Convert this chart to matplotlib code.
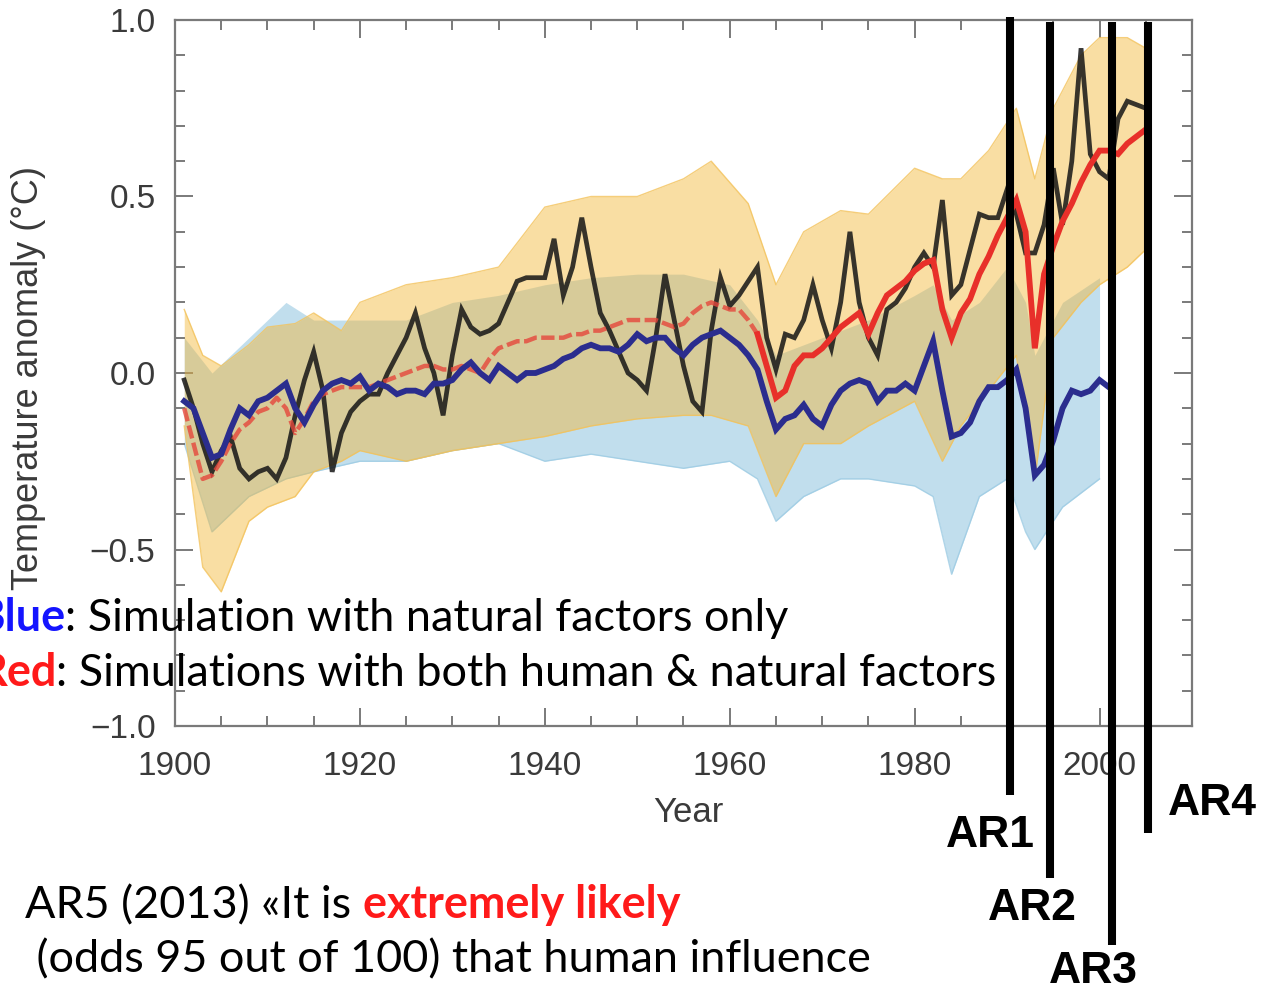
import matplotlib
matplotlib.use("Agg")
import matplotlib.pyplot as plt
import matplotlib.transforms as mtransforms
from matplotlib.lines import Line2D
from matplotlib.ticker import MultipleLocator

# ---------------- data ----------------
obs_years = list(range(1901, 2006))
obs_vals = [-0.02, -0.10, -0.20, -0.28, -0.22, -0.18, -0.27, -0.30, -0.28, -0.27,
            -0.30, -0.24, -0.12, -0.02, 0.06, -0.05, -0.28, -0.17, -0.11, -0.08,
            -0.06, -0.06, 0.00, 0.05, 0.10, 0.17, 0.07, 0.00, -0.12, 0.05,
            0.18, 0.13, 0.11, 0.12, 0.14, 0.20, 0.26, 0.27, 0.27, 0.27,
            0.38, 0.22, 0.30, 0.44, 0.30, 0.17, 0.12, 0.06, 0.00, -0.02,
            -0.05, 0.10, 0.28, 0.15, 0.02, -0.08, -0.11, 0.12, 0.27, 0.19,
            0.22, 0.26, 0.30, 0.10, 0.01, 0.11, 0.10, 0.15, 0.25, 0.15,
            0.07, 0.20, 0.40, 0.20, 0.10, 0.05, 0.18, 0.20, 0.24, 0.30,
            0.34, 0.30, 0.49, 0.22, 0.25, 0.35, 0.45, 0.44, 0.44, 0.52,
            0.45, 0.34, 0.34, 0.42, 0.58, 0.42, 0.60, 0.92, 0.62, 0.57,
            0.55, 0.72, 0.77, 0.76, 0.75]

red_years = list(range(1901, 2006))
red_vals = [-0.10, -0.20, -0.30, -0.29, -0.25, -0.20, -0.16, -0.14, -0.11, -0.10,
            -0.07, -0.10, -0.17, -0.13, -0.08, -0.06, -0.05, -0.04, -0.04, -0.04,
            -0.04, -0.03, -0.02, -0.01, 0.00, 0.01, 0.02, 0.02, 0.01, 0.01,
            0.02, 0.01, 0.00, 0.04, 0.07, 0.08, 0.09, 0.09, 0.10, 0.10,
            0.10, 0.10, 0.11, 0.11, 0.12, 0.12, 0.13, 0.14, 0.15, 0.15,
            0.15, 0.15, 0.14, 0.13, 0.14, 0.17, 0.19, 0.20, 0.19, 0.18,
            0.18, 0.15, 0.11, 0.02, -0.07, -0.05, 0.02, 0.05, 0.05, 0.07,
            0.10, 0.13, 0.15, 0.17, 0.11, 0.17, 0.22, 0.24, 0.26, 0.29,
            0.31, 0.32, 0.18, 0.10, 0.17, 0.21, 0.28, 0.33, 0.39, 0.44,
            0.49, 0.40, 0.07, 0.28, 0.36, 0.43, 0.48, 0.54, 0.59, 0.63,
            0.63, 0.62, 0.65, 0.67, 0.69]

blue_years = list(range(1901, 2002))
blue_vals = [-0.08, -0.10, -0.17, -0.24, -0.23, -0.16, -0.10, -0.12, -0.08, -0.07,
             -0.05, -0.03, -0.10, -0.14, -0.09, -0.05, -0.03, -0.02, -0.03, -0.01,
             -0.05, -0.03, -0.04, -0.06, -0.05, -0.05, -0.06, -0.03, -0.03, -0.02,
             0.01, 0.03, 0.00, -0.02, 0.02, 0.00, -0.02, 0.00, 0.00, 0.01,
             0.02, 0.04, 0.05, 0.07, 0.08, 0.07, 0.07, 0.06, 0.08, 0.11,
             0.09, 0.10, 0.10, 0.07, 0.05, 0.08, 0.10, 0.11, 0.12, 0.10,
             0.08, 0.05, 0.01, -0.08, -0.16, -0.13, -0.12, -0.09, -0.13, -0.15,
             -0.09, -0.05, -0.03, -0.02, -0.03, -0.08, -0.05, -0.05, -0.03, -0.05,
             0.02, 0.09, -0.05, -0.18, -0.17, -0.14, -0.08, -0.04, -0.04, -0.02,
             0.01, -0.10, -0.29, -0.26, -0.19, -0.10, -0.05, -0.06, -0.05, -0.02,
             -0.04]

# ensemble spread (envelopes of the thin simulation lines)
ens_all_years = [1901, 1903, 1905, 1908, 1910, 1913, 1915, 1918, 1920, 1925, 1930,
                 1935, 1940, 1945, 1950, 1955, 1958, 1962, 1965, 1968, 1972, 1975,
                 1980, 1983, 1985, 1988, 1991, 1993, 1995, 1998, 2000, 2003, 2005]
ens_all_hi = [0.18, 0.05, 0.02, 0.08, 0.13, 0.14, 0.17, 0.12, 0.20, 0.25, 0.27,
              0.30, 0.47, 0.50, 0.50, 0.55, 0.60, 0.48, 0.25, 0.40, 0.46, 0.45,
              0.58, 0.55, 0.55, 0.63, 0.75, 0.55, 0.75, 0.90, 0.95, 0.95, 0.92]
ens_all_lo = [-0.15, -0.55, -0.62, -0.42, -0.38, -0.35, -0.28, -0.25, -0.22, -0.25, -0.22,
              -0.20, -0.18, -0.15, -0.13, -0.12, -0.12, -0.15, -0.35, -0.20, -0.20, -0.15,
              -0.08, -0.25, -0.15, -0.05, 0.05, -0.30, 0.10, 0.20, 0.25, 0.30, 0.35]

ens_nat_years = [1901, 1904, 1908, 1912, 1915, 1920, 1925, 1930, 1935, 1940, 1945,
                 1950, 1955, 1960, 1963, 1965, 1968, 1972, 1975, 1980, 1982, 1984,
                 1987, 1990, 1992, 1993, 1996, 2000]
ens_nat_hi = [0.10, 0.00, 0.10, 0.20, 0.15, 0.15, 0.15, 0.20, 0.22, 0.25, 0.27,
              0.28, 0.28, 0.25, 0.15, 0.05, 0.08, 0.12, 0.15, 0.22, 0.25, 0.15,
              0.20, 0.30, 0.20, 0.05, 0.20, 0.27]
ens_nat_lo = [-0.20, -0.45, -0.35, -0.30, -0.28, -0.25, -0.25, -0.22, -0.20, -0.25, -0.23,
              -0.25, -0.27, -0.25, -0.30, -0.42, -0.35, -0.30, -0.30, -0.32, -0.35, -0.57,
              -0.35, -0.30, -0.45, -0.50, -0.38, -0.30]

ar_labels = ["AR1", "AR2", "AR3", "AR4"]
ar_years = [1990.3, 1994.6, 2001.3, 2005.2]

x_ticks = [1900, 1920, 1940, 1960, 1980, 2000]
y_ticks = [-1.0, -0.5, 0.0, 0.5, 1.0]

# ---------------- figure ----------------
W, H = 1270, 991
fig = plt.figure(figsize=(W / 100, H / 100), dpi=100)
fig.patch.set_facecolor("white")


def fx(px):
    return px / W


def fy(py):
    return 1 - py / H


ax = fig.add_axes([fx(175), fy(726), (1192 - 175) / W, (726 - 20) / H])
ax.set_xlim(1900, 2010)
ax.set_ylim(-1.0, 1.0)

# ensembles
ax.fill_between(ens_nat_years, ens_nat_lo, ens_nat_hi, color="#8fc4df", alpha=0.55, lw=0, zorder=1)
ax.fill_between(ens_all_years, ens_all_lo, ens_all_hi, color="#f3b634", alpha=0.45, lw=0, zorder=2)
ax.plot(ens_all_years, ens_all_hi, color="#f3c25a", lw=1, alpha=0.8, zorder=2)
ax.plot(ens_all_years, ens_all_lo, color="#f3c25a", lw=1, alpha=0.8, zorder=2)
ax.plot(ens_nat_years, ens_nat_lo, color="#9ccbe3", lw=1, alpha=0.8, zorder=1)

# observations
ax.plot(obs_years, obs_vals, color="#151515", lw=3.4, alpha=0.85, zorder=3, solid_joinstyle="miter")

# red: mean of human + natural (early part appears hatched/faded)
split = red_years.index(1963)
ax.plot(red_years[:split + 1], red_vals[:split + 1], color="#e5473c", lw=3.2, alpha=0.8,
        dashes=(3, 1), zorder=4)
ax.plot(red_years[split:], red_vals[split:], color="#e8302a", lw=4.2, zorder=4,
        solid_joinstyle="miter")

# blue: natural only mean
ax.plot(blue_years, blue_vals, color="#2b2d8e", lw=4.2, zorder=5, solid_joinstyle="miter")

# axes styling
for s in ax.spines.values():
    s.set_color("#7a7a7a")
    s.set_linewidth(1.6)
ax.set_xticks(x_ticks)
ax.set_yticks(y_ticks)
ax.xaxis.set_minor_locator(MultipleLocator(5))
ax.yaxis.set_minor_locator(MultipleLocator(0.1))
ax.tick_params(which="both", direction="in", top=True, right=True, color="#7a7a7a", width=1.4)
ax.tick_params(which="major", length=13)
ax.tick_params(which="minor", length=7)
ax.tick_params(axis="x", labelsize=24, pad=18, labelcolor="#3a3a3a")
ax.tick_params(axis="y", labelsize=24, pad=14, labelcolor="#3a3a3a")
ax.set_yticklabels(["\u22121.0", "\u22120.5", "0.0", "0.5", "1.0"])
for lab in ax.get_xticklabels() + ax.get_yticklabels():
    lab.set_family("Liberation Sans")

fig.text(fx(688), fy(812), "Year", fontsize=25, family="Liberation Sans", color="#3a3a3a",
         ha="center", va="center")
fig.text(fx(29), fy(378), "Temperature anomaly (\u00b0C)", fontsize=26, family="Liberation Sans",
         color="#3a3a3a", rotation=90, ha="center", va="center")

# AR vertical lines (x in data years, y in figure pixels)
trans = mtransforms.blended_transform_factory(ax.transData, fig.transFigure)
ar_top = [17, 22, 22, 22]
ar_bot = [795, 878, 945, 833]
for yr, t, b in zip(ar_years, ar_top, ar_bot):
    fig.add_artist(Line2D([yr, yr], [fy(t), fy(b)], transform=trans, color="black",
                          lw=5.8, solid_capstyle="butt", zorder=10))

ar_pos = [(990, 847), (1032, 920), (1093, 983), (1212, 815)]
for lab, (px, py) in zip(ar_labels, ar_pos):
    fig.text(fx(px), fy(py), lab, fontsize=32, family="Liberation Sans", fontweight="bold",
             color="black", ha="center", va="baseline", zorder=11)

# ---------------- rich text ----------------
renderer = fig.canvas.get_renderer()
FAM = ["Lato", "DejaVu Sans"]


def measure(s, size, weight):
    t = fig.text(0, 0, s + "|", fontsize=size, family=FAM, fontweight=weight)
    w1 = t.get_window_extent(renderer=renderer).width
    t.remove()
    t = fig.text(0, 0, "|", fontsize=size, family=FAM, fontweight=weight)
    w2 = t.get_window_extent(renderer=renderer).width
    t.remove()
    return w1 - w2


def rich(x_px, y_px, parts, size):
    x = x_px
    for s, color, weight in parts:
        fig.text(fx(x), fy(y_px), s, color=color, fontsize=size, family=FAM,
                 fontweight=weight, ha="left", va="baseline", zorder=12)
        x += measure(s, size, weight)
    return x


line1 = [("Blue", "#1414ff", "bold"), (": Simulation with natural factors only", "black", "normal")]
line2 = [("Red", "#ff1a1a", "bold"), (": Simulations with both human & natural factors", "black", "normal")]
line3 = [("AR5 (2013) \u00abIt is ", "black", "normal"), ("extremely likely", "#ff1a1a", "bold")]
line4 = [(" (odds 95 out of 100) that human influence", "black", "normal")]

base = 30
w2 = sum(measure(s, base, w) for s, c, w in line2)
size = base * 1018 / w2

rich(-25, 631, line1, size)
rich(-22, 686, line2, size)
rich(25, 918, line3, size)
rich(25, 972, line4, size)

fig.savefig("out.png", dpi=100)
